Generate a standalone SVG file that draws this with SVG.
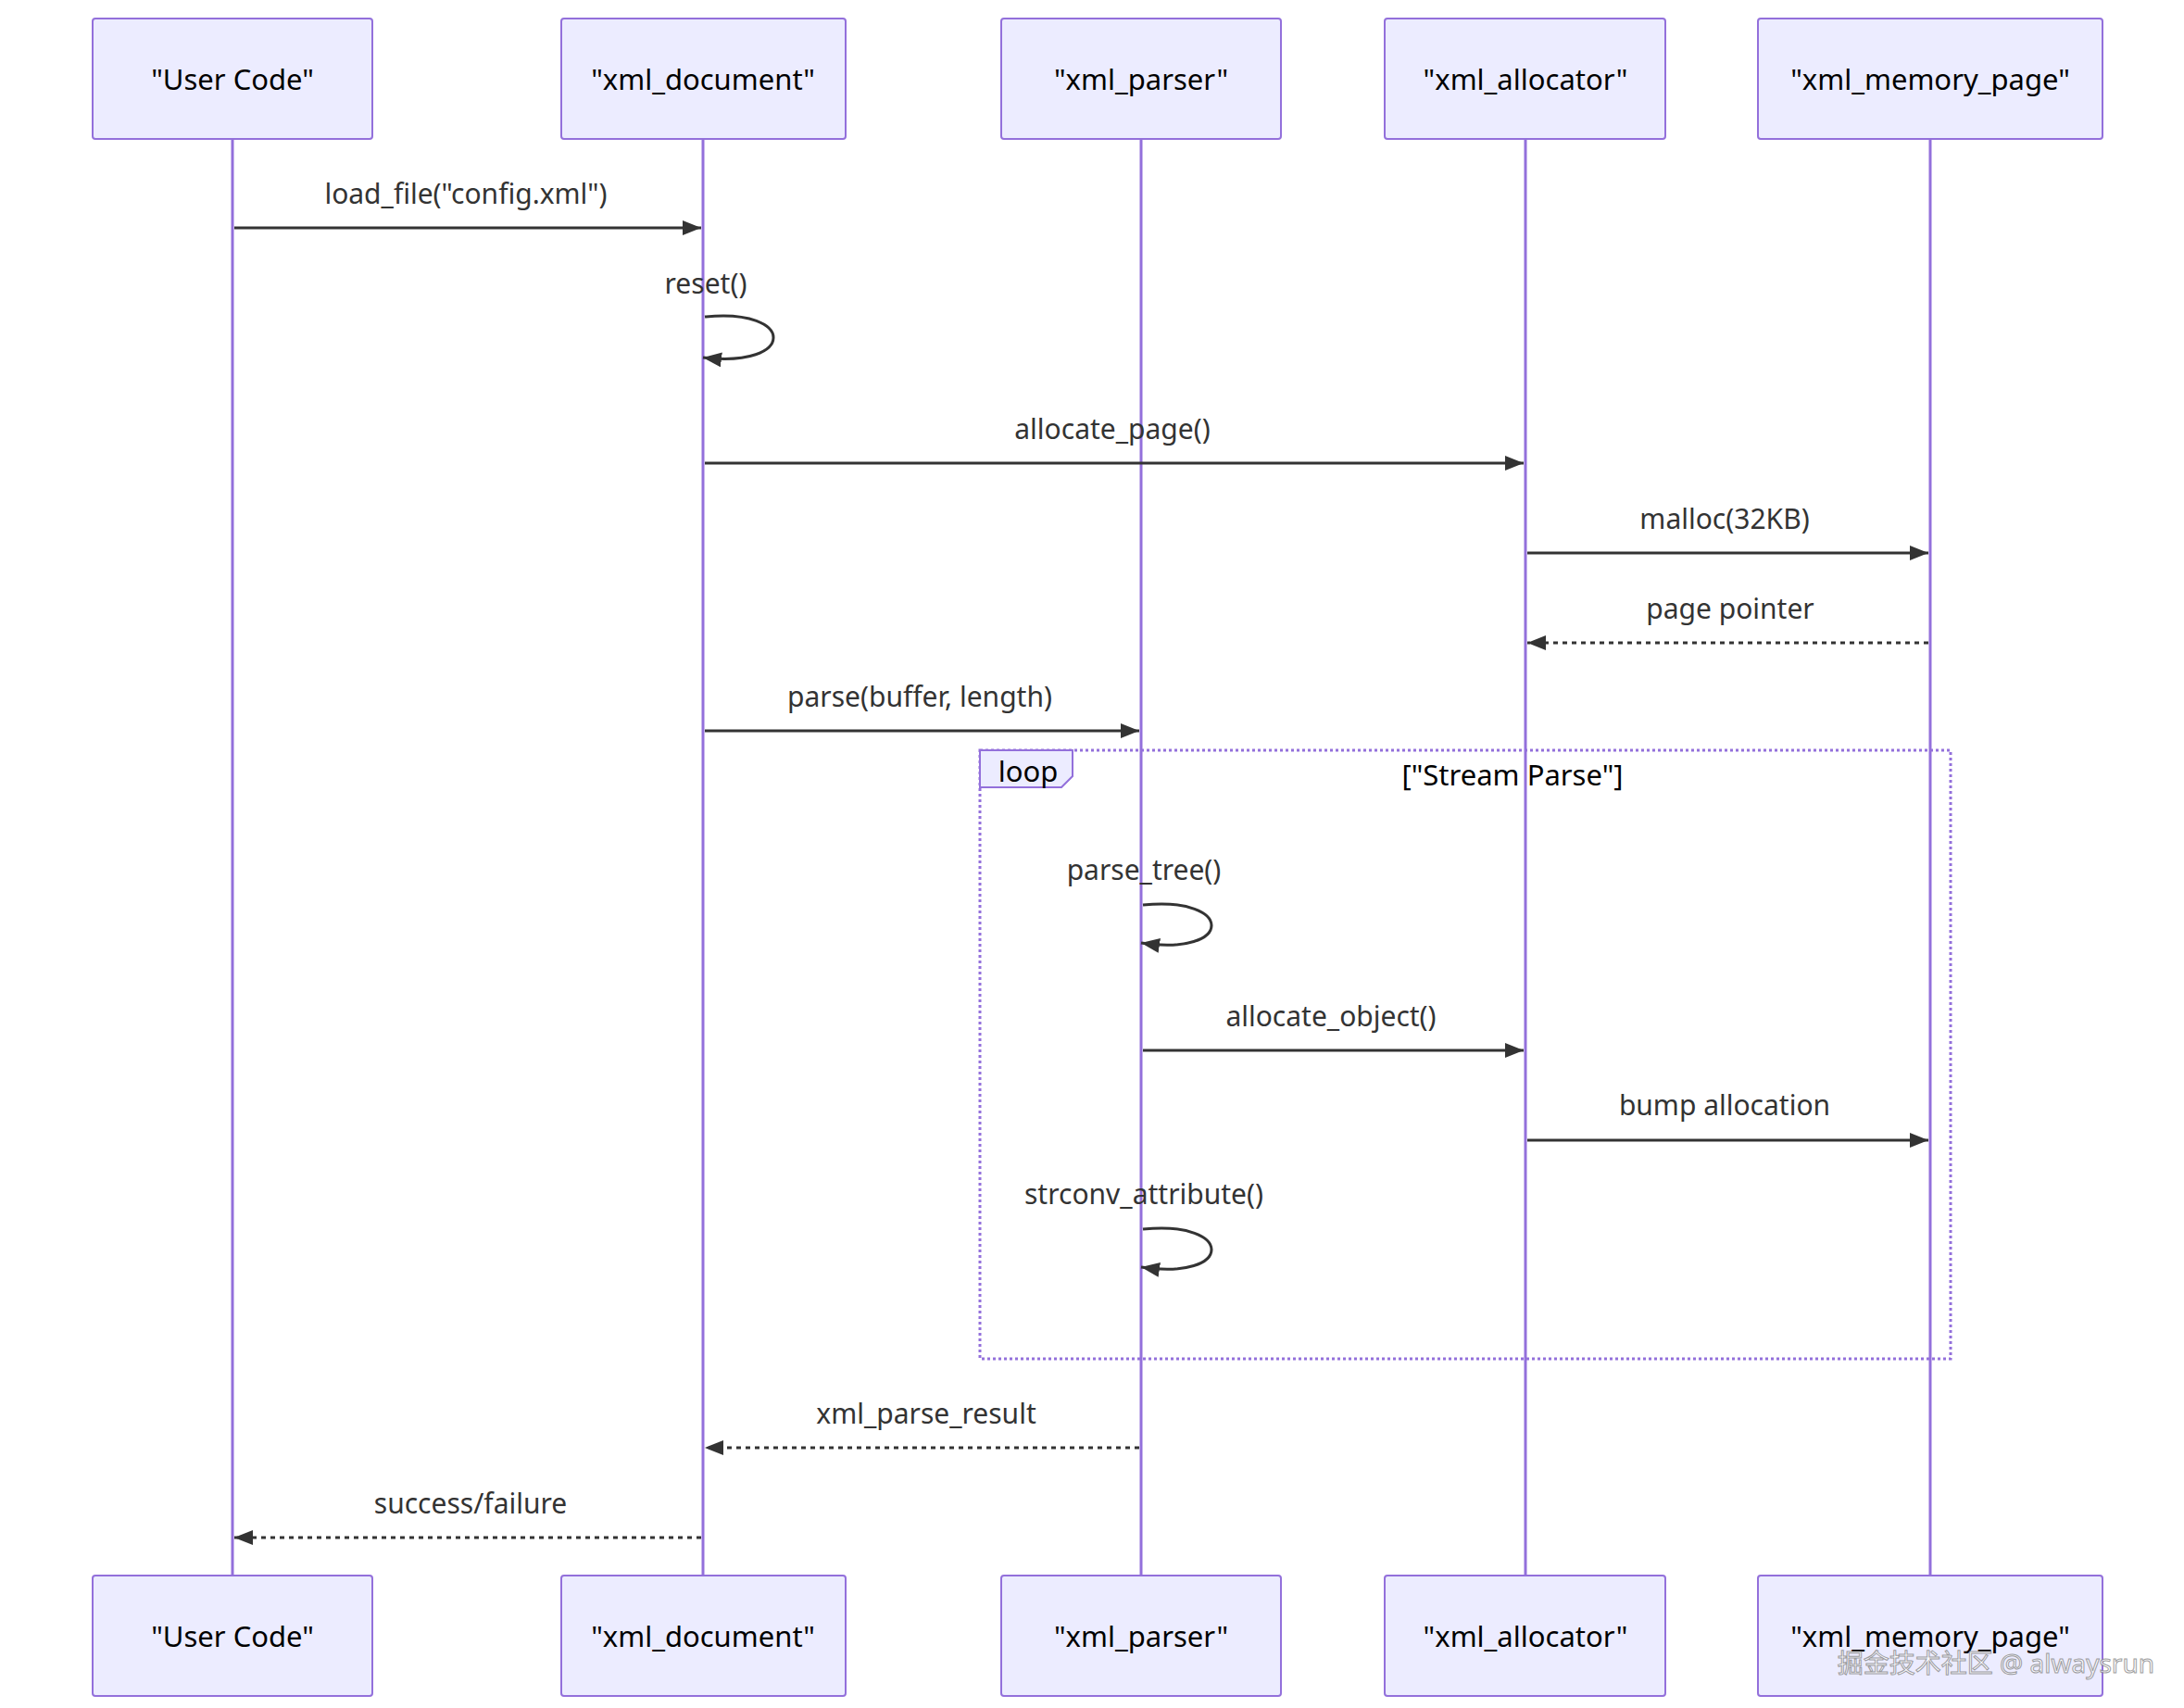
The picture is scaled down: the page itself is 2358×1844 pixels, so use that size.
<svg xmlns="http://www.w3.org/2000/svg" width="2358" height="1844" viewBox="0 0 2358 1844">
<style>
.actor{fill:#ECECFF;stroke:#9370DB;stroke-width:2}
.at{font-family:"Noto Sans","Liberation Sans",sans-serif;font-size:31px;fill:#000;text-anchor:middle;dominant-baseline:central}
.life{stroke:#9370DB;stroke-width:3}
.msg{stroke:#333;stroke-width:3;fill:none}
.dash{stroke-dasharray:5,5}
.mt{font-family:"Noto Sans","Liberation Sans",sans-serif;font-size:30px;fill:#333;text-anchor:middle}
.loop{fill:none;stroke:#9370DB;stroke-width:3;stroke-dasharray:3,3}
</style>
<defs>
<marker id="ah" viewBox="0 0 12 10" refX="12" refY="5" markerWidth="12" markerHeight="10" markerUnits="userSpaceOnUse" orient="auto"><path d="M0,0 L12,5 L0,10 z" fill="#333"/></marker>
<marker id="ah2" viewBox="0 0 20 16" refX="20" refY="8" markerWidth="20" markerHeight="16" markerUnits="userSpaceOnUse" orient="auto"><path d="M0,0 L20,8 L0,16 z" fill="#333"/></marker>
</defs>
<rect width="2358" height="1844" fill="#fff"/>
<g id="lifelines">
<line class="life" x1="251" y1="150" x2="251" y2="1701"/>
<line class="life" x1="759" y1="150" x2="759" y2="1701"/>
<line class="life" x1="1232" y1="150" x2="1232" y2="1701"/>
<line class="life" x1="1647" y1="150" x2="1647" y2="1701"/>
<line class="life" x1="2084" y1="150" x2="2084" y2="1701"/>
</g>
<g id="actor-user-top"><rect class="actor" x="100" y="20" width="302" height="130" rx="3"/><text class="at" x="251" y="85">"User Code"</text></g>
<g id="actor-doc-top"><rect class="actor" x="606" y="20" width="307" height="130" rx="3"/><text class="at" x="759" y="85">"xml_document"</text></g>
<g id="actor-parser-top"><rect class="actor" x="1081" y="20" width="302" height="130" rx="3"/><text class="at" x="1232" y="85">"xml_parser"</text></g>
<g id="actor-alloc-top"><rect class="actor" x="1495" y="20" width="303" height="130" rx="3"/><text class="at" x="1647" y="85">"xml_allocator"</text></g>
<g id="actor-page-top"><rect class="actor" x="1898" y="20" width="372" height="130" rx="3"/><text class="at" x="2084" y="85">"xml_memory_page"</text></g>
<g id="actor-user-bottom"><rect class="actor" x="100" y="1701" width="302" height="130" rx="3"/><text class="at" x="251" y="1766">"User Code"</text></g>
<g id="actor-doc-bottom"><rect class="actor" x="606" y="1701" width="307" height="130" rx="3"/><text class="at" x="759" y="1766">"xml_document"</text></g>
<g id="actor-parser-bottom"><rect class="actor" x="1081" y="1701" width="302" height="130" rx="3"/><text class="at" x="1232" y="1766">"xml_parser"</text></g>
<g id="actor-alloc-bottom"><rect class="actor" x="1495" y="1701" width="303" height="130" rx="3"/><text class="at" x="1647" y="1766">"xml_allocator"</text></g>
<g id="actor-page-bottom"><rect class="actor" x="1898" y="1701" width="372" height="130" rx="3"/><text class="at" x="2084" y="1766">"xml_memory_page"</text></g>
<g id="loop-frame">
<rect class="loop" x="1058" y="810" width="1048" height="657"/>
<path d="M1058,810 H1158 V838 L1146,850 H1058 Z" fill="#ECECFF" stroke="#9370DB" stroke-width="2"/>
<text class="at" x="1110" y="832" font-size="30">loop</text>
<text class="at" x="1633" y="836">["Stream Parse"]</text>
</g>
<g id="connectors">
<text class="mt" x="503" y="220">load_file("config.xml")</text>
<line class="msg" x1="253" y1="246" x2="757" y2="246" marker-end="url(#ah2)"/>
<text class="mt" x="762" y="317">reset()</text>
<path class="msg" d="M761,342 C860,332 860,398 759,386" marker-end="url(#ah2)"/>
<text class="mt" x="1201" y="474">allocate_page()</text>
<line class="msg" x1="761" y1="500" x2="1645" y2="500" marker-end="url(#ah2)"/>
<text class="mt" x="1862" y="571">malloc(32KB)</text>
<line class="msg" x1="1649" y1="597" x2="2082" y2="597" marker-end="url(#ah2)"/>
<text class="mt" x="1868" y="668">page pointer</text>
<line class="msg dash" x1="2082" y1="694" x2="1649" y2="694" marker-end="url(#ah2)"/>
<text class="mt" x="993" y="763">parse(buffer, length)</text>
<line class="msg" x1="761" y1="789" x2="1230" y2="789" marker-end="url(#ah2)"/>
<text class="mt" x="1235" y="950">parse_tree()</text>
<path class="msg" d="M1234,977 C1333,967 1333,1033 1232,1018" marker-end="url(#ah2)"/>
<text class="mt" x="1437" y="1108">allocate_object()</text>
<line class="msg" x1="1234" y1="1134" x2="1645" y2="1134" marker-end="url(#ah2)"/>
<text class="mt" x="1862" y="1204">bump allocation</text>
<line class="msg" x1="1649" y1="1231" x2="2082" y2="1231" marker-end="url(#ah2)"/>
<text class="mt" x="1235" y="1300">strconv_attribute()</text>
<path class="msg" d="M1234,1327 C1333,1317 1333,1383 1232,1368" marker-end="url(#ah2)"/>
<text class="mt" x="1000" y="1537">xml_parse_result</text>
<line class="msg dash" x1="1230" y1="1563" x2="761" y2="1563" marker-end="url(#ah2)"/>
<text class="mt" x="508" y="1634">success/failure</text>
<line class="msg dash" x1="757" y1="1660" x2="253" y2="1660" marker-end="url(#ah2)"/>
</g>
<text x="2326" y="1806" text-anchor="end" font-family="'Noto Sans','Noto Sans CJK SC',sans-serif" font-size="28" fill="#fff" stroke="#888" stroke-width="1" opacity="0.8">掘金技术社区 @ alwaysrun</text>
</svg>
